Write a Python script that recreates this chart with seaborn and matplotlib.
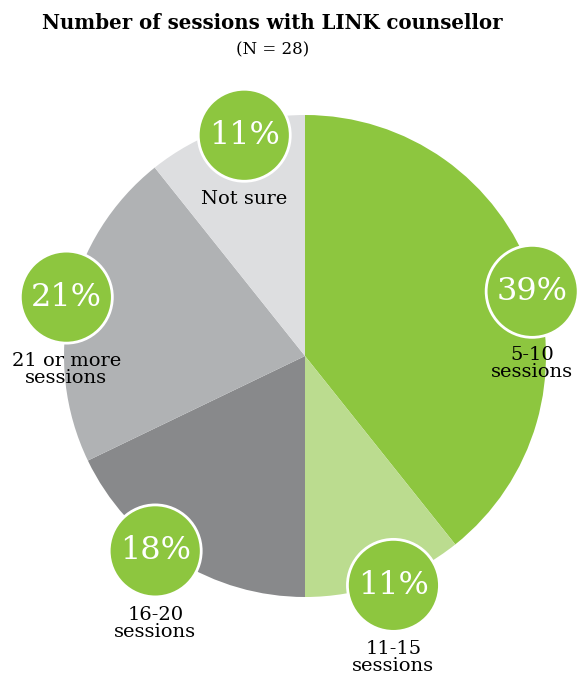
import numpy as np
import matplotlib
matplotlib.use("Agg")
import matplotlib.pyplot as plt
import matplotlib.patches as mpatches
import seaborn as sns

sns.set_theme(style="white")
plt.rcParams['font.family'] = ['DejaVu Serif']
plt.rcParams['text.color'] = 'black'

# data (N = 28)
categories = ["5-10\nsessions", "11-15\nsessions", "16-20\nsessions",
              "21 or more\nsessions", "Not sure"]
counts = [11, 3, 5, 6, 3]
n_total = 28
slice_colors = ["#8dc63f", "#bbdc8f", "#88898b", "#b0b2b4", "#dddee0"]
badge_color = "#8dc63f"
# small placement nudges for the badges (degrees, fraction of radius)
badge_shift = [-3.4, 1.8, -5.4, -1.0, -3.9]
badge_dist = [0.98, 1.02, 1.02, 1.02, 0.95]

W, H = 579, 680
fig = plt.figure(figsize=(W / 100, H / 100), dpi=100)
ax = fig.add_axes([0, 0, 1, 1])

cx, cy, R = 305, H - 356, 241
wedges, _ = ax.pie(counts, colors=slice_colors, startangle=90, counterclock=False,
                   center=(cx, cy), radius=R, frame=True,
                   wedgeprops=dict(linewidth=0))
ax.set_xlim(0, W)
ax.set_ylim(0, H)
ax.set_aspect("equal")
ax.axis("off")

for w, cnt, lab, sh, dist in zip(wedges, counts, categories, badge_shift, badge_dist):
    mid = np.deg2rad((w.theta1 + w.theta2) / 2 + sh)
    bx = cx + dist * R * np.cos(mid)
    by = cy + dist * R * np.sin(mid)
    ax.add_patch(mpatches.Circle((bx, by), 46, facecolor=badge_color,
                                 edgecolor="white", linewidth=2, zorder=5))
    pct = round(cnt / n_total * 100)
    ax.text(bx, by, f"{pct}%", color="white", fontsize=23,
            ha="center", va="center", zorder=6)
    ax.text(bx, by - 55, lab, color="black", fontsize=14, ha="center",
            va="top", linespacing=0.9, zorder=6)

fig.text(272 / W, 1 - 23 / H, "Number of sessions with LINK counsellor",
         ha="center", va="center", fontsize=14.2, fontweight="bold")
fig.text(273 / W, 1 - 50 / H, "(N = 28)", ha="center", va="center", fontsize=12)

fig.savefig("out.png", dpi=100, facecolor="white")
